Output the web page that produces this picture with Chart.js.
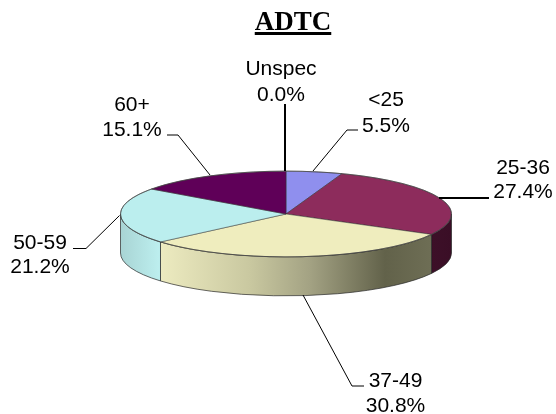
<!DOCTYPE html>
<html><head><meta charset="utf-8">
<style>html,body{margin:0;padding:0;background:#fff}canvas{display:block}</style>
<script src="https://cdn.jsdelivr.net/npm/chart.js@4"></script></head>
<body><canvas id="c" width="556" height="414"></canvas>
<script>
const titleText = 'ADTC';
const categories = ['Unspec', '<25', '25-36', '37-49', '50-59', '60+'];
const shares = [0.0, 5.5, 27.4, 30.8, 21.2, 15.1];
const topColors = ['#8F8FEE', '#8F8FEE', '#8D2C5C', '#EFEDBE', '#BBEEEE', '#5F0058'];
const labelX = [281, 386, 523, 395.5, 40, 132];
const nameBaseline = [75, 106, 174, 387, 249, 111];
const shareBaseline = [101, 132, 198, 412, 273, 136];
const leaders = [
  [[285, 104], [285, 171]],
  [[358, 130], [347, 130], [313, 171]],
  [[489, 198], [439, 198]],
  [[364, 386], [352, 386], [303, 295]],
  [[73, 248.5], [86, 248.5], [119.5, 215.5]],
  [[167, 135], [178, 135], [210, 175]]
];
const leaderWidth = [2, 1, 2, 1, 1, 1];
const SQUASH = 43 / 166, DEPTH = 39;

function sideFill(ctx, i, cx, r) {
  const g = ctx.createLinearGradient(cx - r, 0, cx + r, 0);
  const add = (x, c) => g.addColorStop(Math.min(1, Math.max(0, (x - (cx - r)) / (2 * r))), c);
  if (i === 3) { add(160, '#EDEBC0'); add(250, '#C9C8A0'); add(310, '#A3A283'); add(385, '#62624A'); add(432, '#6E6E55'); }
  else if (i === 4) { add(120, '#A8D4D4'); add(160, '#BDEFEF'); }
  else if (i === 2) { add(432, '#3D1028'); add(452, '#3A0E26'); }
  else { add(120, topColors[i]); add(452, topColors[i]); }
  return g;
}

const pie3d = {
  id: 'pie3d',
  beforeDatasetsDraw(chart) {
    const ctx = chart.ctx, arcs = chart.getDatasetMeta(0).data;
    const { x: cx, y: cy, outerRadius: r } = arcs[0];
    const ry = r * SQUASH;
    arcs.forEach((a, i) => {
      const s = Math.max(a.startAngle, 0), e = Math.min(a.endAngle, Math.PI);
      if (e <= s) return;
      ctx.save();
      ctx.beginPath();
      ctx.ellipse(cx, cy, r, ry, 0, s, e);
      ctx.ellipse(cx, cy + DEPTH, r, ry, 0, e, s, true);
      ctx.closePath();
      ctx.fillStyle = sideFill(ctx, i, cx, r);
      ctx.fill();
      ctx.strokeStyle = 'rgba(40,40,40,.7)';
      ctx.lineWidth = 1;
      ctx.stroke();
      ctx.restore();
    });
    ctx.save();
    ctx.translate(cx, cy);
    ctx.scale(1, SQUASH);
    ctx.translate(-cx, -cy);
  },
  afterDatasetsDraw(chart) {
    const ctx = chart.ctx;
    ctx.restore();
    const { x: cx, y: cy, outerRadius: r } = chart.getDatasetMeta(0).data[0];
    ctx.save();
    ctx.beginPath();
    ctx.ellipse(cx, cy, r, r * SQUASH, 0, 0, Math.PI * 2);
    ctx.strokeStyle = 'rgba(70,70,70,.7)';
    ctx.lineWidth = 1;
    ctx.stroke();

    ctx.strokeStyle = '#000';
    leaders.forEach((pts, i) => {
      ctx.beginPath();
      pts.forEach((p, j) => j ? ctx.lineTo(p[0], p[1]) : ctx.moveTo(p[0], p[1]));
      ctx.lineWidth = leaderWidth[i];
      ctx.stroke();
    });

    ctx.fillStyle = '#000';
    ctx.textAlign = 'center';
    ctx.textBaseline = 'alphabetic';
    ctx.font = '21px "Liberation Sans", Arial, sans-serif';
    categories.forEach((c, i) => {
      ctx.fillText(c, labelX[i], nameBaseline[i]);
      ctx.fillText(shares[i].toFixed(1) + '%', labelX[i], shareBaseline[i]);
    });

    ctx.font = 'bold 27px "Liberation Serif", "Times New Roman", serif';
    ctx.fillText(titleText, 293, 30);
    const w = ctx.measureText(titleText).width;
    ctx.fillRect(293 - w / 2, 32, w, 3);
    ctx.restore();
  }
};

new Chart(document.getElementById('c'), {
  type: 'pie',
  data: {
    labels: categories,
    datasets: [{
      data: shares,
      backgroundColor: topColors,
      borderColor: 'rgba(50,50,50,.8)',
      borderWidth: 1
    }]
  },
  options: {
    responsive: false,
    animation: false,
    layout: { padding: { left: 120, right: 104, top: 48, bottom: 34 } },
    plugins: { legend: { display: false }, tooltip: { enabled: false }, title: { display: false } }
  },
  plugins: [pie3d]
});
</script></body></html>
